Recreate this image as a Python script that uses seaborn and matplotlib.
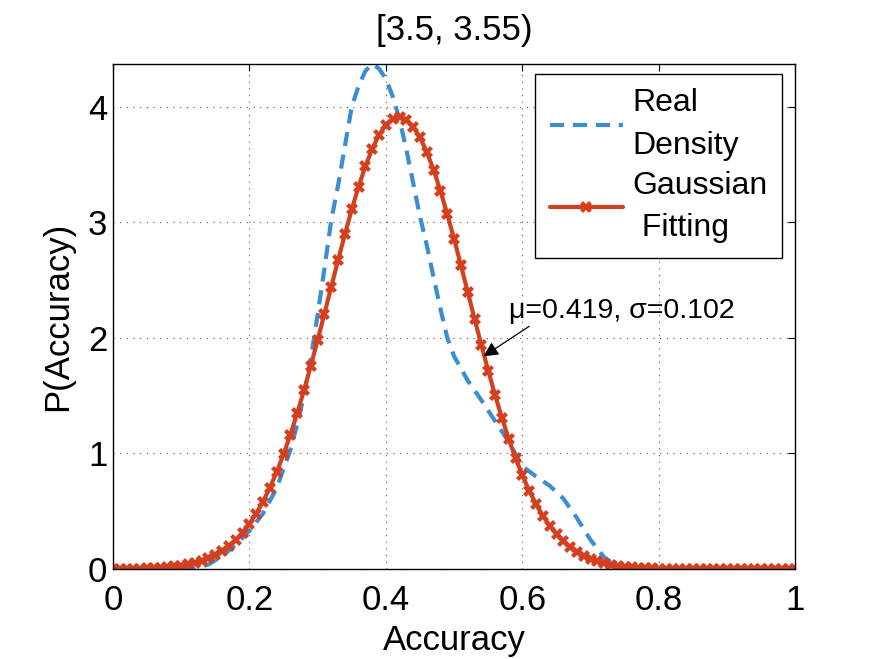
#!/usr/bin/env python3
# Density of accuracy for the [3.5, 3.55) bin: real KDE vs. Gaussian fit
import pandas as pd
import seaborn as sns
import matplotlib
matplotlib.use("Agg")
import matplotlib.pyplot as plt

TITLE = "[3.5, 3.55)"

# Real density
REAL_X = [0.00, 0.02, 0.04, 0.06, 0.08, 0.10, 0.12, 0.14, 0.16, 0.18,
          0.20, 0.22, 0.24, 0.26, 0.27, 0.28, 0.29, 0.30, 0.31, 0.32,
          0.33, 0.34, 0.35, 0.36, 0.37, 0.38, 0.39, 0.40, 0.41, 0.42,
          0.43, 0.44, 0.45, 0.46, 0.47, 0.48, 0.49, 0.50, 0.52, 0.54,
          0.56, 0.58, 0.60, 0.62, 0.64, 0.66, 0.68, 0.70, 0.72, 0.74,
          0.76, 0.80, 0.85, 0.90, 0.95, 1.00]
REAL_Y = [0.0, 0.0, 0.0, 0.0, 0.0, 0.0, 0.0, 0.04, 0.11, 0.21,
          0.33, 0.48, 0.70, 1.03, 1.25, 1.50, 1.82, 2.20, 2.60, 3.02,
          3.32, 3.66, 4.00, 4.18, 4.31, 4.37, 4.33, 4.24, 4.09, 3.89,
          3.63, 3.34, 3.05, 2.80, 2.52, 2.25, 2.00, 1.84, 1.63, 1.46,
          1.28, 1.10, 0.89, 0.80, 0.72, 0.61, 0.44, 0.25, 0.10, 0.02,
          0.0, 0.0, 0.0, 0.0, 0.0, 0.0]

# Gaussian fitting (mu=0.419, sigma=0.102), step 0.01
FIT_X = [round(0.01 * i, 2) for i in range(101)]
FIT_Y = [0.001, 0.001, 0.002, 0.003, 0.004, 0.006, 0.008, 0.011, 0.016, 0.022,
         0.029, 0.040, 0.053, 0.071, 0.093, 0.121, 0.156, 0.199, 0.251, 0.315,
         0.390, 0.480, 0.583, 0.703, 0.839, 0.991, 1.161, 1.346, 1.545, 1.758,
         1.981, 2.210, 2.442, 2.673, 2.898, 3.111, 3.309, 3.485, 3.636, 3.756,
         3.844, 3.896, 3.911, 3.889, 3.829, 3.735, 3.608, 3.452, 3.271, 3.070,
         2.854, 2.627, 2.396, 2.163, 1.935, 1.715, 1.505, 1.308, 1.125, 0.959,
         0.810, 0.677, 0.561, 0.460, 0.374, 0.301, 0.240, 0.189, 0.148, 0.115,
         0.088, 0.067, 0.050, 0.038, 0.028, 0.020, 0.015, 0.011, 0.007, 0.005,
         0.004, 0.003, 0.002, 0.001, 0.001, 0.0005, 0.0003, 0.0002, 0.0001, 0.0001,
         0.0, 0.0, 0.0, 0.0, 0.0, 0.0, 0.0, 0.0, 0.0, 0.0, 0.0]

LABELS = ["Real\nDensity", "Gaussian\n Fitting"]
BLUE = "#3a8ed4"
RED = "#d4401f"
ANNOT = "\u03bc=0.419, \u03c3=0.102"


def main():
    sns.set_theme(style="white")
    plt.rcParams["font.family"] = ["Liberation Sans", "DejaVu Sans"]
    plt.rcParams["text.color"] = "black"
    plt.rcParams["axes.labelcolor"] = "black"

    real = pd.DataFrame({"x": REAL_X, "y": REAL_Y})
    fit = pd.DataFrame({"x": FIT_X, "y": FIT_Y})

    fig = plt.figure(figsize=(8.75, 6.59), dpi=100)
    ax = fig.add_axes([0.129, 0.1366, 0.78, 0.7663])

    sns.lineplot(data=real, x="x", y="y", ax=ax, color=BLUE, lw=3,
                 linestyle=(0, (3.4, 2.1)), label=LABELS[0])
    sns.lineplot(data=fit, x="x", y="y", ax=ax, color=RED, lw=3,
                 marker="X", markersize=8.5, markeredgewidth=0,
                 label=LABELS[1])

    ax.set_xlim(0, 1)
    ax.set_ylim(0, 4.37)
    ax.set_xticks([0, 0.2, 0.4, 0.6, 0.8, 1.0])
    ax.set_xticklabels(["0", "0.2", "0.4", "0.6", "0.8", "1"])
    ax.set_yticks([0, 1, 2, 3, 4])
    ax.tick_params(direction="in", length=5, width=0.8, labelsize=25,
                   top=True, right=True, colors="black")
    ax.tick_params(axis="x", pad=11)
    ax.tick_params(axis="y", pad=4)
    ax.grid(True, linestyle=(0, (1, 5)), color="#555555", linewidth=0.8)
    for s in ax.spines.values():
        s.set_color("black")
        s.set_linewidth(1.0)

    ax.set_xlabel("Accuracy", fontsize=25, labelpad=5, color="black")
    ax.set_ylabel("P(Accuracy)", fontsize=25, labelpad=10, color="black")
    ax.set_title(TITLE, fontsize=25, pad=17, color="black")

    leg = ax.legend(loc="upper right", bbox_to_anchor=(0.981, 0.980),
                    borderaxespad=0, fontsize=23, handlelength=2.3,
                    frameon=True, fancybox=False, framealpha=1,
                    labelspacing=0.3, borderpad=0.45, handletextpad=0.3)
    leg.get_frame().set_edgecolor("black")
    leg.get_frame().set_linewidth(1.0)
    for t in leg.get_texts():
        t.set_linespacing(1.55)
        t.set_color("black")

    ax.text(0.58, 2.17, ANNOT, fontsize=20.5, ha="left", va="baseline",
            color="black")
    ax.annotate("", xy=(0.543, 1.84), xytext=(0.610, 2.10),
                arrowprops=dict(arrowstyle="-|>", color="black", lw=0.9,
                                mutation_scale=22, shrinkA=0, shrinkB=0))

    fig.savefig("out.png", dpi=100)


if __name__ == "__main__":
    main()
